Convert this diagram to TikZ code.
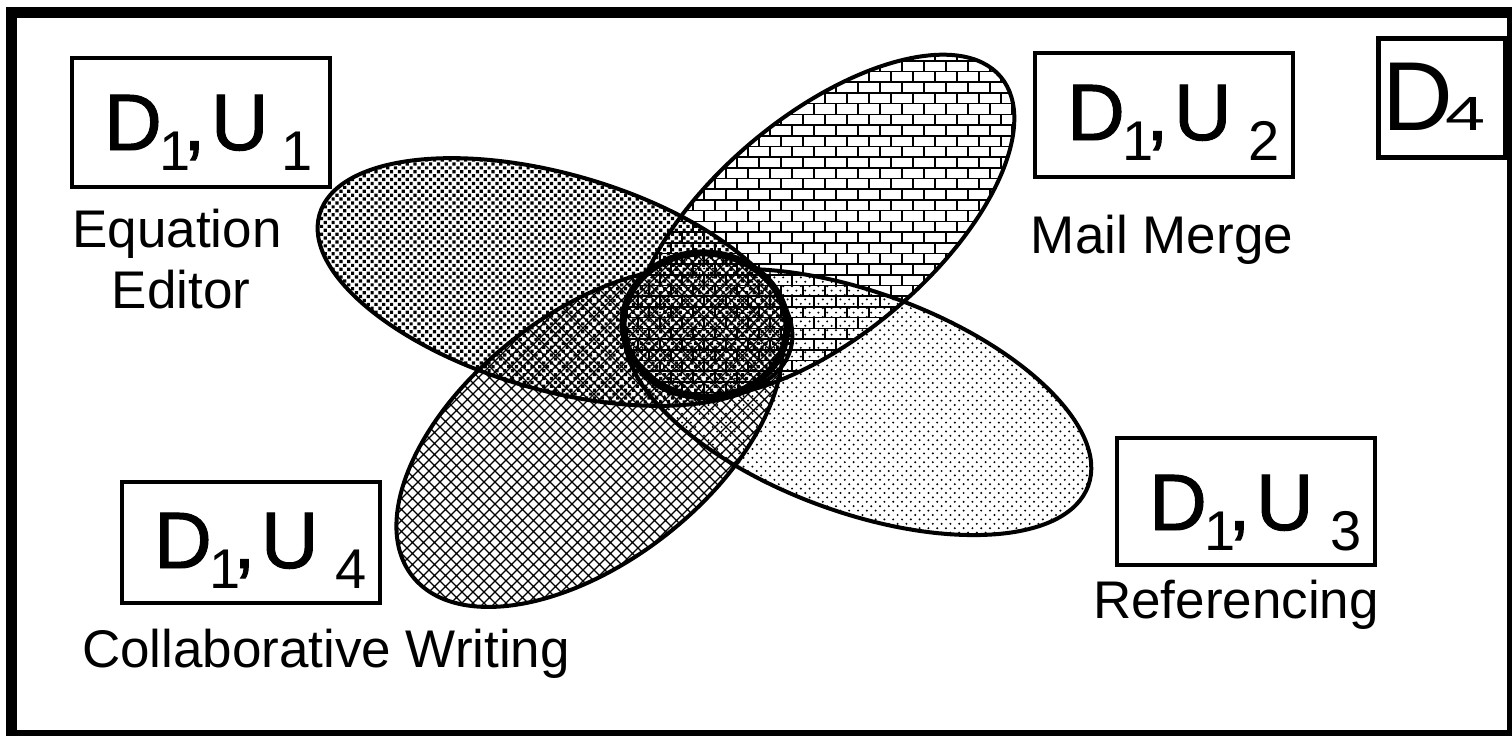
\documentclass[tikz,border=0pt]{standalone}
\usepackage{fontspec}
\setmainfont{Liberation Sans}
\newfontfamily\dufont[FakeBold=1.2]{Liberation Sans}
\usetikzlibrary{patterns}

\pgfdeclarepatternformonly{bigdots}{\pgfqpoint{-1pt}{-1pt}}{\pgfqpoint{4.9pt}{4.9pt}}{\pgfqpoint{3.9pt}{3.9pt}}{%
  \pgfpathrectangle{\pgfqpoint{0pt}{0pt}}{\pgfqpoint{1.6pt}{1.6pt}}%
  \pgfpathrectangle{\pgfqpoint{1.95pt}{1.95pt}}{\pgfqpoint{1.6pt}{1.6pt}}%
  \pgfusepath{fill}}

\pgfdeclarepatternformonly{finedots}{\pgfqpoint{-1pt}{-1pt}}{\pgfqpoint{5.4pt}{5.4pt}}{\pgfqpoint{4.4pt}{4.4pt}}{%
  \pgfpathcircle{\pgfqpoint{0pt}{0pt}}{0.55pt}%
  \pgfpathcircle{\pgfqpoint{2.2pt}{2.2pt}}{0.55pt}%
  \pgfusepath{fill}}

\pgfdeclarepatternformonly{mybricks}{\pgfqpoint{-1pt}{-1pt}}{\pgfqpoint{12pt}{11.7pt}}{\pgfqpoint{11pt}{10.7pt}}{%
  \pgfsetlinewidth{0.8pt}\pgfsetrectcap
  \pgfpathmoveto{\pgfqpoint{0pt}{0pt}}\pgfpathlineto{\pgfqpoint{11pt}{0pt}}%
  \pgfpathmoveto{\pgfqpoint{0pt}{5.35pt}}\pgfpathlineto{\pgfqpoint{11pt}{5.35pt}}%
  \pgfpathmoveto{\pgfqpoint{0pt}{0pt}}\pgfpathlineto{\pgfqpoint{0pt}{5.35pt}}%
  \pgfpathmoveto{\pgfqpoint{5.5pt}{5.35pt}}\pgfpathlineto{\pgfqpoint{5.5pt}{10.7pt}}%
  \pgfusepath{stroke}}

\pgfdeclarepatternformonly{diagcross}{\pgfqpoint{-1pt}{-1pt}}{\pgfqpoint{6.5pt}{6.5pt}}{\pgfqpoint{5.5pt}{5.5pt}}{%
  \pgfsetlinewidth{0.6pt}%
  \pgfpathmoveto{\pgfqpoint{-0.2pt}{-0.2pt}}\pgfpathlineto{\pgfqpoint{5.7pt}{5.7pt}}%
  \pgfpathmoveto{\pgfqpoint{-0.2pt}{5.7pt}}\pgfpathlineto{\pgfqpoint{5.7pt}{-0.2pt}}%
  \pgfusepath{stroke}}

\newcommand\DUtext[2]{\fontsize{40}{44}\dufont
  \makebox[27.6pt][l]{D}%
  \makebox[12pt][l]{\raisebox{-10pt}{\fontsize{28}{30}\rmfamily 1}}%
  \makebox[13.8pt][l]{,}%
  \makebox[#2][l]{U}%
  \raisebox{-10pt}{\fontsize{28}{30}\rmfamily #1}}

\begin{document}
\begin{tikzpicture}[x=0.5pt,y=-0.5pt,
  outline/.style={line width=2pt},
  labelbox/.style={draw, line width=2pt, inner sep=0pt, minimum width=129pt},
  captext/.style={font=\fontsize{26.5}{30}\selectfont, inner sep=0pt, anchor=base},
  dutext/.style={inner sep=0pt, anchor=base west},
  eone/.style={rotate around={-16:(555,282)}},
  etwo/.style={rotate around={40:(823,226)}},
  ethree/.style={rotate around={-20:(858,402)}},
  efour/.style={rotate around={38:(589.5,437.4)}},
  ecen/.style={rotate around={-5:(705,325)}}]
\useasboundingbox (0,0) rectangle (1512,735);
\fill[white] (0,0) rectangle (1512,735);

% pattern fills (transparent, so overlaps combine)
\path[pattern=bigdots, eone] (555,282) ellipse [x radius=245, y radius=108];
\path[pattern=mybricks, etwo] (823,226) ellipse [x radius=232, y radius=110];
\path[pattern=finedots, ethree] (858,402) ellipse [x radius=245, y radius=110];
\path[pattern=diagcross, efour] (589.5,437.4) ellipse [x radius=225, y radius=124];

% outlines
\draw[outline, eone] (555,282) ellipse [x radius=245, y radius=108];
\draw[outline, etwo] (823,226) ellipse [x radius=232, y radius=110];
\draw[outline, ethree] (858,402) ellipse [x radius=245, y radius=110];
\draw[outline, efour] (589.5,437.4) ellipse [x radius=225, y radius=124];

% central overlap of all four
\fill[white, ecen] (705,325) ellipse [x radius=82, y radius=72];
\path[pattern=bigdots, ecen] (705,325) ellipse [x radius=82, y radius=72];
\path[pattern=mybricks, ecen] (705,325) ellipse [x radius=82, y radius=72];
\path[pattern=finedots, ecen] (705,325) ellipse [x radius=82, y radius=72];
\path[pattern=diagcross, ecen] (705,325) ellipse [x radius=82, y radius=72];
\draw[line width=3.5pt, ecen] (705,325) ellipse [x radius=82, y radius=72];

% outer frame
\draw[line width=5.5pt] (11.5,12.5) rectangle (1512.5,735.5);

% labelled boxes
\node[labelbox, minimum height=64.5pt] (b1) at (201,122.5) {};
\node[dutext] (t1) at (103.7,150) {\DUtext{1}{35.5pt}};
\node[captext] (eq1) at (177,247) {Equation};
\node[captext] (eq2) at (181,308) {Editor};

\node[labelbox, minimum height=62pt] (b2) at (1164,115) {};
\node[dutext] (t2) at (1066.7,140) {\DUtext{2}{37.5pt}};
\node[captext] (mm) at (1162,253) {Mail Merge};

\node[labelbox, minimum height=63.5pt] (b3) at (1246,501.5) {};
\node[dutext] (t3) at (1148.7,530) {\DUtext{3}{37.5pt}};
\node[captext] (ref) at (1236,618) {Referencing};

\node[labelbox, minimum height=60.5pt] (b4) at (251,542.5) {};
\node[dutext] (t4) at (153.7,568) {\DUtext{4}{37.5pt}};
\node[captext] (cw) at (326,667) {Collaborative Writing};

\node[draw, line width=2.5pt, inner sep=0pt, minimum width=63.5pt, minimum height=59.5pt] (b5) at (1441.5,97.5) {};
\node[dutext] (t5) at (1382,130) {\fontsize{49}{52}\selectfont D\kern-3.6pt\scalebox{1.5}[1]{\fontsize{24}{26}\selectfont 4}};
\end{tikzpicture}
\end{document}
